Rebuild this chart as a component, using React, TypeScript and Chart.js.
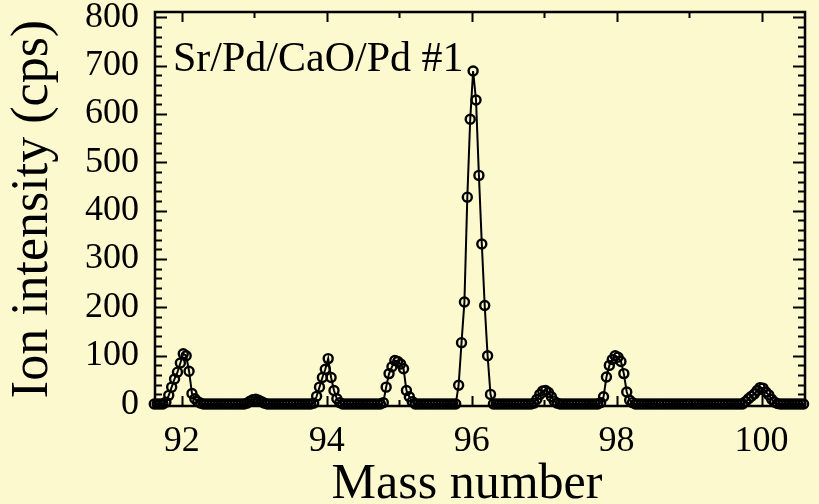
import { useEffect, useRef } from 'react';
import { Chart, registerables } from 'chart.js';

Chart.register(...registerables);

// Scan grid (instrument mass channels)
const scanStart = 91.62;
const scanStep = 0.04;

// Ion intensity (cps), one row per mass unit of the scan
const scanRow0 = [0, 0, 0, 0, 4, 18, 35, 52, 66, 85, 104, 100, 68, 22, 11, 5, 2, 0, 0, 0, 0, 0, 0, 0, 0];
const scanRow1 = [0, 0, 0, 0, 0, 0, 0, 2, 6, 9, 10, 8, 5, 2, 0, 0, 0, 0, 0, 0, 0, 0, 0, 0, 0];
const scanRow2 = [0, 0, 0, 0, 0, 2, 16, 35, 55, 72, 94, 55, 28, 11, 3, 0, 0, 0, 0, 0, 0, 0, 0, 0, 0];
const scanRow3 = [0, 0, 0, 0, 3, 35, 63, 77, 90, 88, 83, 73, 28, 15, 5, 0, 0, 0, 0, 0, 0, 0, 0, 0, 0];
const scanRow4 = [0, 0, 0, 0, 0, 39, 127, 211, 428, 589, 689, 629, 473, 331, 204, 100, 20, 0, 0, 0, 0, 0, 0, 0, 0];
const scanRow5 = [0, 0, 0, 0, 0, 0, 2, 10, 20, 27, 28, 24, 15, 6, 2, 0, 0, 0, 0, 0, 0, 0, 0, 0, 0];
const scanRow6 = [0, 0, 0, 0, 3, 15, 56, 80, 92, 100, 97, 88, 63, 25, 8, 3, 0, 0, 0, 0, 0, 0, 0, 0, 0];
const scanRow7 = [0, 0, 0, 0, 0, 0, 0, 0, 0, 0, 0, 0, 0, 0, 0, 0, 0, 0, 0, 0, 0, 0, 0, 0, 0];
const scanRow8 = [0, 0, 0, 0, 5, 11, 16, 21, 28, 34, 33, 25, 19, 10, 4, 1, 0, 0, 0, 0, 0, 0, 0, 0, 0];

const intensities = [
  ...scanRow0, ...scanRow1, ...scanRow2, ...scanRow3, ...scanRow4,
  ...scanRow5, ...scanRow6, ...scanRow7, ...scanRow8,
];
const masses = intensities.map((_, i) => Math.round((scanStart + scanStep * i) * 100) / 100);

const xTickValues = [92, 94, 96, 98, 100];
const xMinorTickValues = [93, 95, 97, 99];
const yTickValues = [0, 100, 200, 300, 400, 500, 600, 700, 800];
const yMinorTickValues = [20, 40, 60, 80, 120, 140, 160, 180, 220, 240, 260, 280, 320, 340, 360, 380,
  420, 440, 460, 480, 520, 540, 560, 580, 620, 640, 660, 680, 720, 740, 760, 780];

const sampleLabel = 'Sr/Pd/CaO/Pd #1';
const xTitle = 'Mass number';
const yTitle = 'Ion intensity (cps)';

const FONT = "'Liberation Serif', 'Times New Roman', serif";
const BG = 'rgb(252, 249, 207)';

const framePlugin = {
  id: 'frameAndTicks',
  beforeDraw(chart: any) {
    const { ctx, width, height } = chart;
    ctx.save();
    ctx.fillStyle = BG;
    ctx.fillRect(0, 0, width, height);
    ctx.restore();
  },
  afterDraw(chart: any) {
    const { ctx, chartArea: a, scales } = chart;
    const xs = scales.x;
    const ys = scales.y;
    ctx.save();
    ctx.strokeStyle = '#000';
    ctx.lineWidth = 2;
    ctx.beginPath();
    for (const v of yTickValues) {
      const y = Math.round(ys.getPixelForValue(v)) + 0.5;
      ctx.moveTo(a.left, y); ctx.lineTo(a.left + 12, y);
      ctx.moveTo(a.right, y); ctx.lineTo(a.right - 12, y);
    }
    for (const v of yMinorTickValues) {
      const y = Math.round(ys.getPixelForValue(v)) + 0.5;
      ctx.moveTo(a.left, y); ctx.lineTo(a.left + 7, y);
      ctx.moveTo(a.right, y); ctx.lineTo(a.right - 7, y);
    }
    for (const v of xTickValues) {
      const x = Math.round(xs.getPixelForValue(v)) + 0.5;
      ctx.moveTo(x, a.top); ctx.lineTo(x, a.top + 10);
      ctx.moveTo(x, a.bottom); ctx.lineTo(x, a.bottom - 10);
    }
    for (const v of xMinorTickValues) {
      const x = Math.round(xs.getPixelForValue(v)) + 0.5;
      ctx.moveTo(x, a.top); ctx.lineTo(x, a.top + 6);
      ctx.moveTo(x, a.bottom); ctx.lineTo(x, a.bottom - 6);
    }
    ctx.stroke();
    ctx.lineWidth = 2.5;
    ctx.strokeRect(a.left, a.top, a.right - a.left, a.bottom - a.top);
    ctx.fillStyle = '#000';
    ctx.textBaseline = 'alphabetic';
    // sample label
    ctx.font = `42px ${FONT}`;
    ctx.textAlign = 'left';
    ctx.fillText(sampleLabel, a.left + 18, a.top + 59);
    // x axis title
    ctx.font = `50px ${FONT}`;
    ctx.textAlign = 'center';
    ctx.fillText(xTitle, (a.left + a.right) / 2 - 13, chart.height - 6);
    ctx.restore();
  },
};

export default function App() {
  const ref = useRef<HTMLCanvasElement | null>(null);

  useEffect(() => {
    document.body.style.margin = '0';
    const canvas = ref.current;
    if (!canvas) return;
    const chart = new Chart(canvas, {
      type: 'line',
      data: {
        datasets: [
          {
            data: masses.map((m, i) => ({ x: m, y: intensities[i] })),
            borderColor: '#000',
            borderWidth: 2,
            pointRadius: 4.5,
            pointBorderWidth: 2.4,
            pointBorderColor: '#000',
            pointBackgroundColor: 'rgba(0,0,0,0)',
            tension: 0,
            clip: false,
          } as any,
        ],
      },
      options: {
        animation: false,
        responsive: false,
        maintainAspectRatio: false,
        layout: { padding: { top: 12, right: 14, left: 0, bottom: 0 } },
        plugins: { legend: { display: false }, tooltip: { enabled: false } },
        scales: {
          x: {
            type: 'linear',
            min: 91.63,
            max: 100.6,
            afterBuildTicks: (s: any) => { s.ticks = xTickValues.map((v) => ({ value: v })); },
            afterFit: (s: any) => {
              s.height = 98;
              s.paddingLeft = 0;
              s.paddingRight = 0;
            },
            grid: { display: false, drawTicks: false },
            border: { display: false },
            ticks: {
              color: '#000',
              font: { family: FONT, size: 36 },
              padding: 14,
              maxRotation: 0,
              autoSkip: false,
            },
          },
          y: {
            type: 'linear',
            min: -4,
            max: 811,
            afterBuildTicks: (s: any) => { s.ticks = yTickValues.map((v) => ({ value: v })); },
            afterFit: (s: any) => {
              s.width = 155;
              s.paddingTop = 0;
              s.paddingBottom = 0;
            },
            grid: { display: false, drawTicks: false },
            border: { display: false },
            ticks: {
              color: '#000',
              font: { family: FONT, size: 36 },
              padding: 16,
            },
            title: {
              display: true,
              text: yTitle,
              color: '#000',
              font: { family: FONT, size: 52, lineHeight: 1.2 },
              padding: { top: 2, bottom: 0 },
            },
          },
        },
      },
      plugins: [framePlugin],
    });
    return () => chart.destroy();
  }, []);

  return (
    <div style={{ width: 819, height: 504 }}>
      <canvas ref={ref} width={819} height={504} style={{ display: 'block' }} />
    </div>
  );
}
